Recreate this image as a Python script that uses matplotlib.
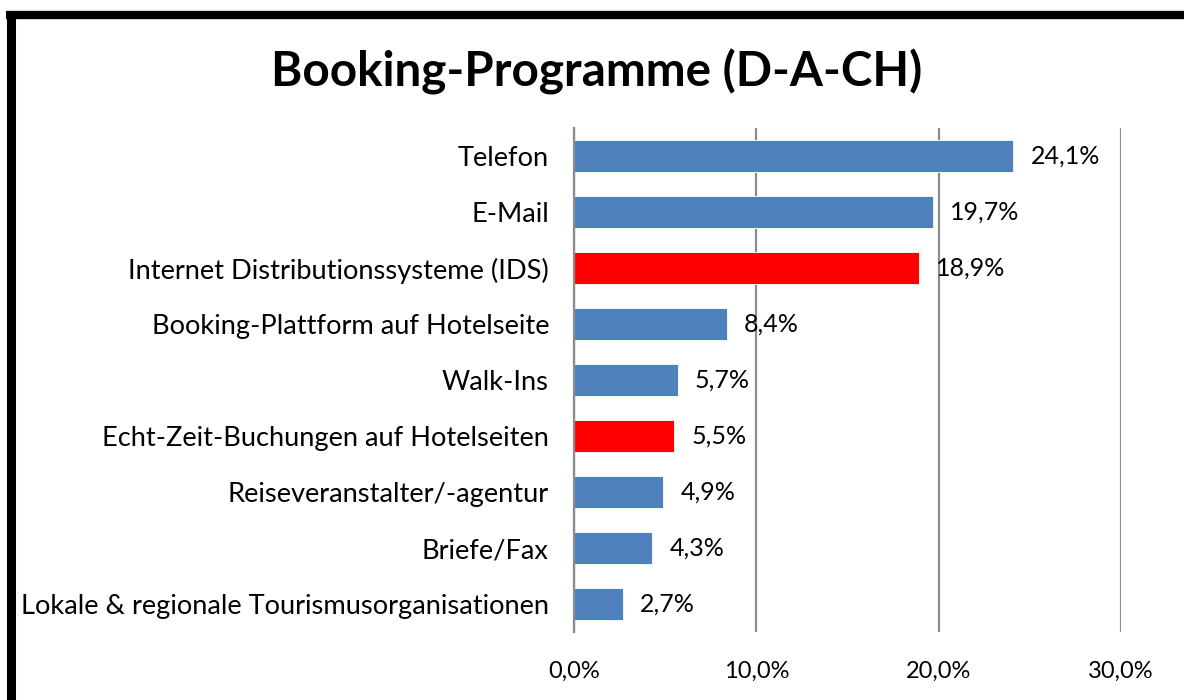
'''
Booking-Programme (D-A-CH) - horizontal bar chart
'''

import matplotlib
matplotlib.use("Agg")
import matplotlib.pyplot as plt
from matplotlib.lines import Line2D

categories = [
    "Telefon",
    "E-Mail",
    "Internet Distributionssysteme (IDS)",
    "Booking-Plattform auf Hotelseite",
    "Walk-Ins",
    "Echt-Zeit-Buchungen auf Hotelseiten",
    "Reiseveranstalter/-agentur",
    "Briefe/Fax",
    "Lokale & regionale Tourismusorganisationen",
]
values = [24.1, 19.7, 18.9, 8.4, 5.7, 5.5, 4.9, 4.3, 2.7]
highlight = [False, False, True, False, False, True, False, False, False]
ticks = [0, 10, 20, 30]

plt.rcParams["font.family"] = ["Lato", "DejaVu Sans"]

fig = plt.figure(figsize=(11.84, 7.0), dpi=100)
ax = fig.add_axes([574 / 1184, 1 - 632 / 700, (1121 - 574) / 1184, (632 - 128) / 700])

colors = ["#FF0000" if h else "#4F81BD" for h in highlight]
ypos = list(range(len(categories)))[::-1]
ax.barh(ypos, values, height=0.57, color=colors, edgecolor="white", linewidth=0.6, zorder=3)

for y, v in zip(ypos, values):
    ax.annotate(f"{v:.1f}%".replace(".", ","), (v, y), xytext=(17, 0),
                textcoords="offset pixels", va="center", ha="left", fontsize=18, zorder=4)

ax.set_xlim(0, 30)
ax.set_ylim(-0.5, len(categories) - 0.5)
ax.set_xticks(ticks)
ax.set_xticklabels([f"{t:.1f}%".replace(".", ",") for t in ticks], fontsize=17)
ax.tick_params(axis="both", length=0)
ax.set_yticks(ypos)
ax.set_yticklabels(categories, fontsize=19.6)
ax.tick_params(axis="x", pad=21)
ax.tick_params(axis="y", pad=18)
ax.grid(axis="x", color="#8C8C8C", linewidth=1.6, zorder=0)
for s in ["top", "right", "bottom"]:
    ax.spines[s].set_visible(False)
ax.spines["left"].set_color("#8C8C8C")
ax.spines["left"].set_linewidth(1.6)
ax.spines["left"].set_zorder(5)

fig.text(597 / 1184, 1 - 72 / 700, "Booking-Programme (D-A-CH)", ha="center", va="center",
         fontsize=34.3, fontweight="bold")

# black frame on the left and top
fig.add_artist(Line2D([10.5 / 1184, 10.5 / 1184], [0, 1 - 11 / 700], color="black",
                      linewidth=6.5, transform=fig.transFigure, solid_capstyle="butt"))
fig.add_artist(Line2D([6 / 1184, 1], [1 - 15 / 700, 1 - 15 / 700], color="black",
                      linewidth=6.0, transform=fig.transFigure, solid_capstyle="butt"))

fig.savefig("out.png", dpi=100)
